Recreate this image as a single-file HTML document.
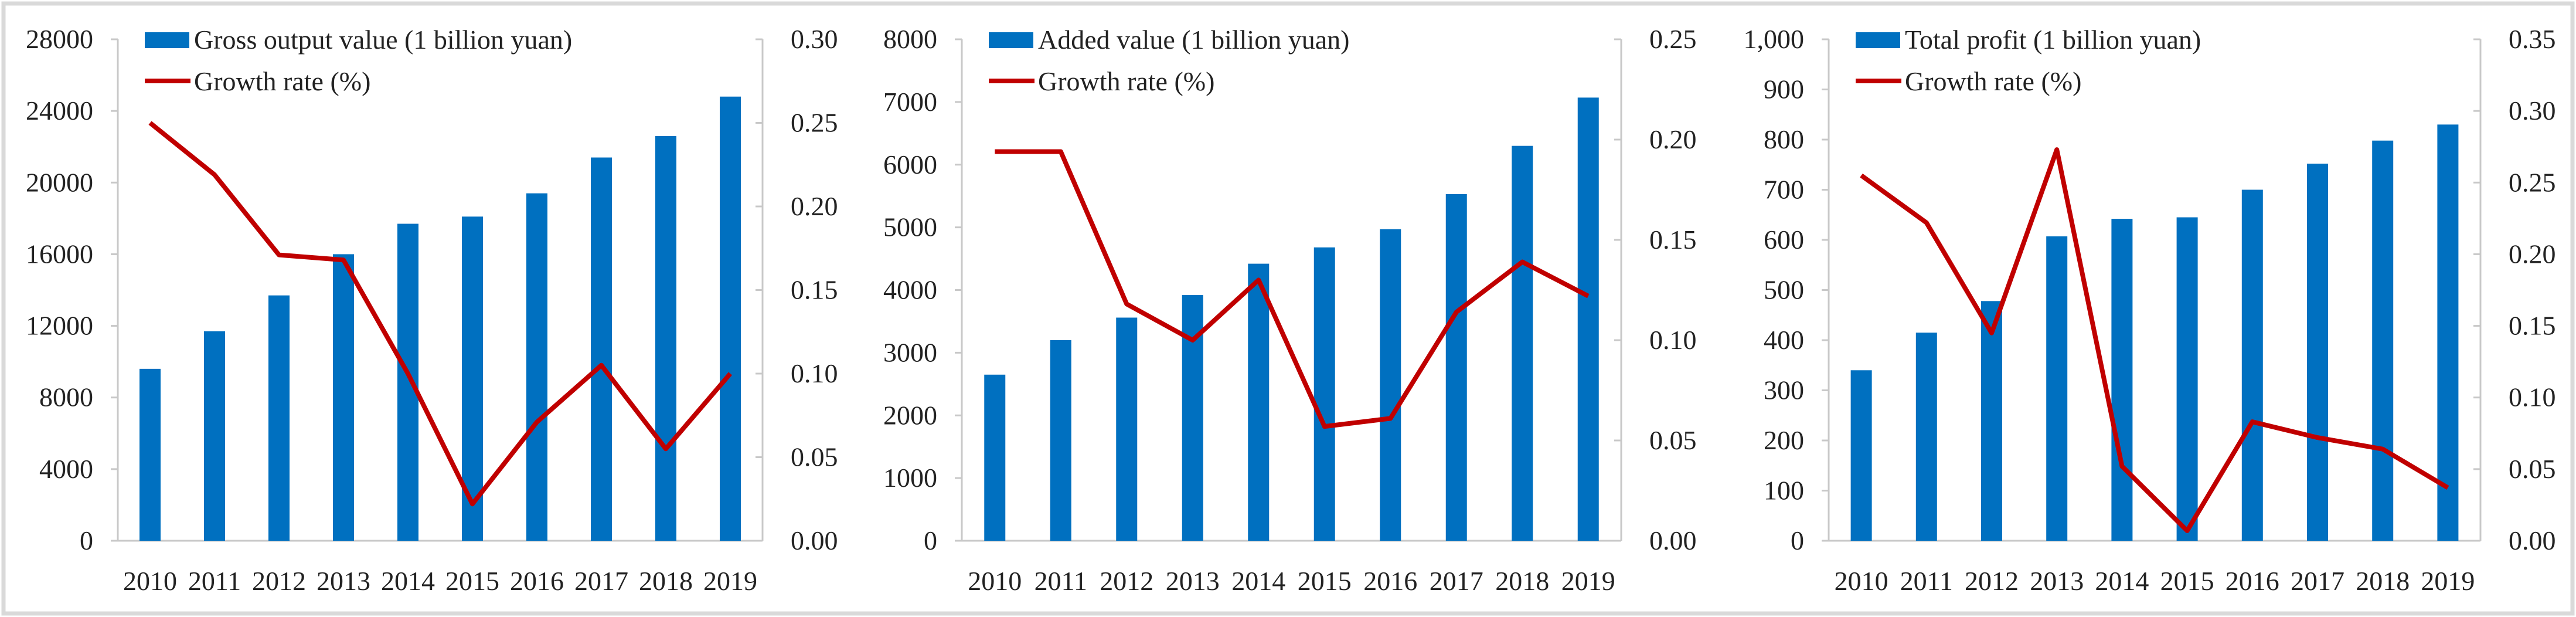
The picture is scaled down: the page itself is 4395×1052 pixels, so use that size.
<!DOCTYPE html>
<html><head><meta charset="utf-8"><style>
html,body{margin:0;padding:0;background:#fff;}
svg{display:block;}
text{font-family:"Liberation Serif",serif;fill:#222;}
</style></head><body>
<svg id="root" width="4395" height="1052" viewBox="0 0 4395 1052" xmlns="http://www.w3.org/2000/svg">
<rect x="6" y="6" width="4383" height="1040" fill="#fff" stroke="#d9d9d9" stroke-width="7"/>
</svg>
<script>
const years = ["2010","2011","2012","2013","2014","2015","2016","2017","2018","2019"];
const grossValues = [9600,11700,13700,16000,17700,18100,19400,21400,22600,24800];
const grossGrowth = [0.25,0.219,0.171,0.168,0.10,0.022,0.071,0.105,0.055,0.10];
const addedValues = [2650,3200,3560,3920,4420,4680,4970,5530,6300,7070];
const addedGrowth = [0.194,0.194,0.118,0.100,0.130,0.057,0.061,0.114,0.139,0.122];
const profitValues = [340,415,478,607,642,645,700,752,798,830];
const profitGrowth = [0.255,0.222,0.145,0.273,0.052,0.007,0.083,0.072,0.064,0.037];
const grossLeftTicks = [0,4000,8000,12000,16000,20000,24000,28000];
const addedLeftTicks = [0,1000,2000,3000,4000,5000,6000,7000,8000];
const profitLeftTicks = [0,100,200,300,400,500,600,700,800,900,1000];
const grossRightTicks = [0,0.05,0.10,0.15,0.20,0.25,0.30];
const addedRightTicks = [0,0.05,0.10,0.15,0.20,0.25];
const profitRightTicks = [0,0.05,0.10,0.15,0.20,0.25,0.30,0.35];

const NS = "http://www.w3.org/2000/svg";
const root = document.getElementById('root');
function mk(tag, attrs, parent, txt){
  const e = document.createElementNS(NS, tag);
  for (const k in attrs) e.setAttribute(k, attrs[k]);
  if (txt !== undefined) e.textContent = txt;
  parent.appendChild(e);
  return e;
}
function drawChart(id, x0, x1, vals, growth, lticks, rticks, barLabel, fmtL){
  const g = mk('g', {}, root);
  
  
  const yTop = 67, yZero = 922;
  const lMax = lticks[lticks.length-1], rMax = rticks[rticks.length-1];
  const yL = v => yZero - (v / lMax) * (yZero - yTop);
  const yR = v => yZero - (v / rMax) * (yZero - yTop);
  const cw = (x1 - x0) / years.length;
  const xc = i => x0 + cw * (i + 0.5);
  const la = mk('line', {x1:x0, y1:yTop, x2:x0, y2:yZero, stroke:'#c8c8c8', 'stroke-width':3}, g);
  
  
  const ra = mk('line', {x1:x1, y1:yTop, x2:x1, y2:yZero, stroke:'#c8c8c8', 'stroke-width':3}, g);
  
  
  const xa = mk('line', {x1:x0-12, y1:yZero, x2:x1, y2:yZero, stroke:'#c8c8c8', 'stroke-width':3}, g);
  
  
  lticks.forEach(t => {
    const y = yL(t);
    mk('line', {x1:x0-12, y1:y, x2:x0, y2:y, stroke:'#c8c8c8', 'stroke-width':3}, g);
    const tx = mk('text', {x:x0-42, y:y+15, 'font-size':46, 'text-anchor':'end'}, g, fmtL(t));
    
    
  });
  rticks.forEach(t => {
    const y = yR(t);
    mk('line', {x1:x1-12, y1:y, x2:x1, y2:y, stroke:'#c8c8c8', 'stroke-width':3}, g);
    const tx = mk('text', {x:x1+48, y:y+15, 'font-size':46, 'text-anchor':'start'}, g, t.toFixed(2));
    
    
  });
  years.forEach((yr, i) => {
    const b = mk('rect', {x:xc(i)-18, y:yL(vals[i]), width:36, height:yZero-yL(vals[i]), fill:'#0070c0'}, g);
    
    
    const tx = mk('text', {x:xc(i), y:1006, 'font-size':46, 'text-anchor':'middle'}, g, yr);
    
    
  });
  const pts = growth.map((v, i) => xc(i).toFixed(1) + ',' + yR(v).toFixed(1)).join(' ');
  const ln = mk('polyline', {points:pts, fill:'none', stroke:'#c00000', 'stroke-width':8, 'stroke-linejoin':'round'}, g);
  
  
  const lx = x0 + 46;
  const sw = mk('rect', {x:lx, y:55, width:76, height:27, fill:'#0070c0'}, g);
  
  
  const t1 = mk('text', {x:lx+84, y:83, 'font-size':46}, g, barLabel);
  
  
  const sl = mk('line', {x1:lx, y1:138, x2:lx+78, y2:138, stroke:'#c00000', 'stroke-width':8}, g);
  
  
  const t2 = mk('text', {x:lx+84, y:154, 'font-size':46}, g, 'Growth rate (%)');
  
  
}
drawChart('gross-output', 201, 1301, grossValues, grossGrowth, grossLeftTicks, grossRightTicks, 'Gross output value (1 billion yuan)', t => String(t));
drawChart('added-value', 1641, 2766, addedValues, addedGrowth, addedLeftTicks, addedRightTicks, 'Added value (1 billion yuan)', t => String(t));
drawChart('total-profit', 3120, 4232, profitValues, profitGrowth, profitLeftTicks, profitRightTicks, 'Total profit (1 billion yuan)', t => t.toLocaleString('en-US'));
</script>
</body></html>
